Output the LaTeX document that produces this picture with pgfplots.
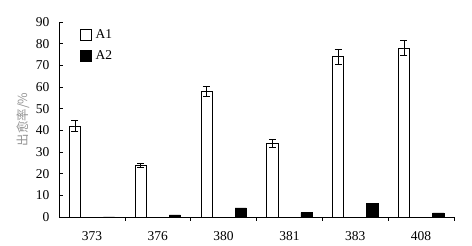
\documentclass[border=0pt]{standalone}
\usepackage{pgfplots}
\pgfplotsset{compat=1.18}
\usepackage{fontspec}
\setmainfont{Liberation Serif}
\newfontfamily\cjk{Noto Sans CJK SC}
\begin{document}
\begin{tikzpicture}[x=1pt,y=1pt]
\begin{axis}[
  scale only axis,
  width=395pt, height=195pt,
  xmin=-0.5, xmax=5.5, ymin=0, ymax=90,
  axis x line*=bottom, axis y line*=left,
  axis line style={line width=0.6pt},
  xtick={0,1,2,3,4,5},
  xticklabels={373,376,380,381,383,408},
  minor xtick={0.5,1.5,2.5,3.5,4.5,5.5},
  major x tick style={draw=none},
  minor tick length=4pt,
  ytick={0,10,...,90},
  tick align=inside,
  major tick length=4pt,
  tick style={black, line width=0.6pt},
  ticklabel style={font=\fontsize{13.5}{13.5}\selectfont},
  /pgf/number format/assume math mode=true,
  xticklabel style={yshift=-7pt},
  yticklabel style={xshift=-6pt},
  ylabel={\cjk 出愈率/\%},
  ylabel style={font=\fontsize{12.5}{12.5}\selectfont, color=gray!85, yshift=-1pt},
  ybar, 
  bar width=0.17,
  legend style={draw=none, fill=none, at={(0.045,0.985)}, anchor=north west,
    font=\fontsize{13.5}{13.5}\selectfont, row sep=7pt,
    nodes={inner xsep=4pt}},
  legend cell align=left,
  legend image code/.code={\draw[#1,draw=black,line width=0.6pt] (0pt,-5.5pt) rectangle (11pt,5.5pt);},
  clip=false,
]
\addplot[bar shift=-0.26, fill=white, draw=black, line width=0.6pt,
  error bars/.cd, y dir=both, y explicit,
  error bar style={line width=0.6pt},
  error mark options={rotate=90, mark size=3.5pt, line width=0.6pt}]
  coordinates {(0,42)+-(0,2.5) (1,24)+-(0,1) (2,58)+-(0,2.5) (3,34)+-(0,2) (4,74)+-(0,3.5) (5,78)+-(0,3.5)};
\addlegendentry{A1}
\addplot[bar shift=0.26, fill=black, draw=black, line width=0.6pt]
  coordinates {(0,0) (1,1) (2,4.2) (3,2) (4,6.3) (5,1.9)};
\addlegendentry{A2}
\path (rel axis cs:0,0) ++(-59pt,-29pt) coordinate (bl);
\path (rel axis cs:1,1) ++(18pt,22pt) coordinate (tr);
\end{axis}
\useasboundingbox (bl) rectangle (tr);
\end{tikzpicture}
\end{document}
